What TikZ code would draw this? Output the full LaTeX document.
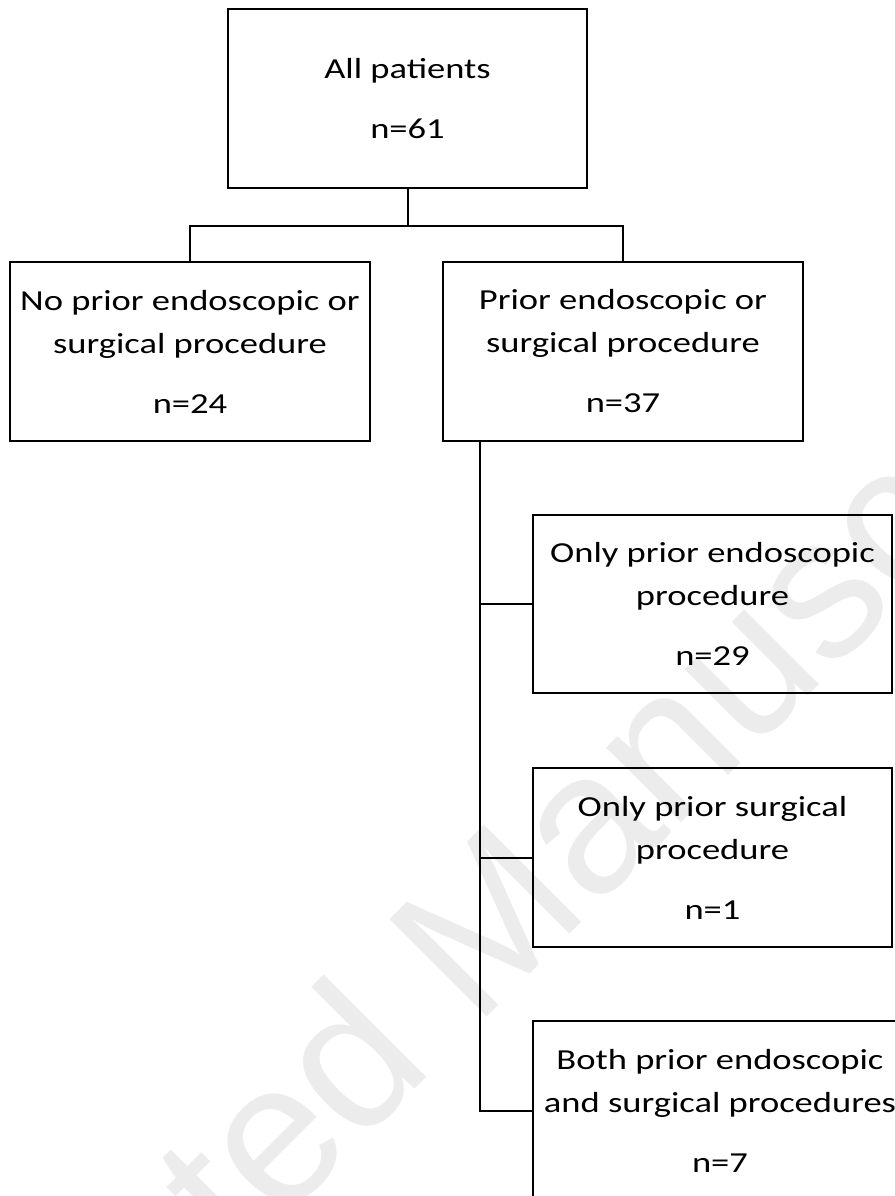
\documentclass[tikz,border=0pt]{standalone}
\usepackage{fontspec}
\setmainfont{Carlito}[FakeStretch=1.26]
\newfontfamily\wmfont{Liberation Sans}
\definecolor{wmgray}{HTML}{ECECEC}
\begin{document}
\begin{tikzpicture}[x=1pt,y=-1pt,
  boxnode/.style={draw=black, line width=2.4pt, minimum width=360pt, minimum height=179pt,
    align=center, inner sep=0pt, font=\fontsize{29}{43}\selectfont},
  conn/.style={draw=black, line width=2pt}]
\useasboundingbox (0,0) rectangle (894,1196);
% watermark
\node[rotate=45, anchor=base, text=wmgray, inner sep=0pt,
  font=\wmfont\fontsize{200}{240}\selectfont] (wm) at (507,997) {Accepted Manuscript};
% boxes
\node[boxnode, minimum width=359pt] (all) at (407.5,98.5) {All patients\\[17pt]n=61};
\node[boxnode] (none) at (190,351.5) {No prior endoscopic or\\surgical procedure\\[17pt]n=24};
\node[boxnode] (prior) at (623,351.5) {Prior endoscopic or\\surgical procedure\\[17pt]n=37};
\node[boxnode, minimum width=359pt, minimum height=178pt] (endo) at (712.5,604) {Only prior endoscopic\\procedure\\[17pt]n=29};
\node[boxnode, minimum width=359pt] (surg) at (712.5,857.5) {Only prior surgical\\procedure\\[17pt]n=1};
\node[boxnode, minimum width=374pt] (both) at (720,1110.5) {Both prior endoscopic\\and surgical procedures\\[17pt]n=7};
% connectors
\coordinate (split) at (407.5,226);
\draw[conn] (all.south) -- (split);
\draw[conn] (split) -| (none.north);
\draw[conn] (split) -| (prior.north);
\coordinate (trunk) at ([xshift=38pt]prior.south west);
\draw[conn] (trunk) |- (both.west);
\draw[conn] (trunk |- endo.west) -- (endo.west);
\draw[conn] (trunk |- surg.west) -- (surg.west);
\end{tikzpicture}
\end{document}
